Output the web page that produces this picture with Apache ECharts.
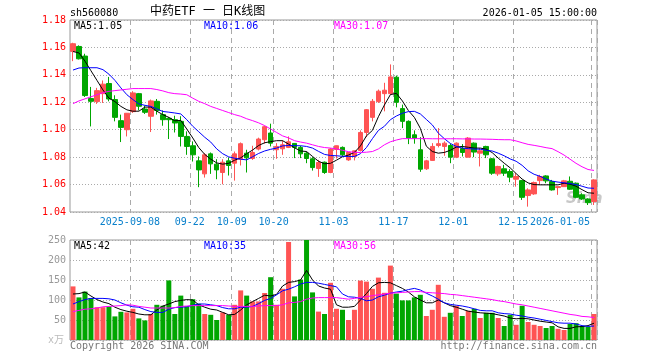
<!DOCTYPE html>
<html>
<head>
<meta charset="utf-8">
<script src="https://cdn.jsdelivr.net/npm/echarts@6.0.0/dist/echarts.min.js"></script>
<style>
html,body{margin:0;padding:0;background:#fff;}
#c{width:660px;height:360px;}
</style>
</head>
<body>
<div id="c"></div>
<script>
const dates = [
'2025-08-25','2025-08-26','2025-08-27','2025-08-28','2025-08-29',
'2025-09-01','2025-09-02','2025-09-03','2025-09-04','2025-09-05',
'2025-09-08','2025-09-09','2025-09-10','2025-09-11','2025-09-12',
'2025-09-15','2025-09-16','2025-09-17','2025-09-18','2025-09-19',
'2025-09-22','2025-09-23','2025-09-24','2025-09-25','2025-09-26',
'2025-09-29','2025-09-30',
'2025-10-09','2025-10-10',
'2025-10-13','2025-10-14','2025-10-15','2025-10-16','2025-10-17',
'2025-10-20','2025-10-21','2025-10-22','2025-10-23','2025-10-24',
'2025-10-27','2025-10-28','2025-10-29','2025-10-30','2025-10-31',
'2025-11-03','2025-11-04','2025-11-05','2025-11-06','2025-11-07',
'2025-11-10','2025-11-11','2025-11-12','2025-11-13','2025-11-14',
'2025-11-17','2025-11-18','2025-11-19','2025-11-20','2025-11-21',
'2025-11-24','2025-11-25','2025-11-26','2025-11-27','2025-11-28',
'2025-12-01','2025-12-02','2025-12-03','2025-12-04','2025-12-05',
'2025-12-08','2025-12-09','2025-12-10','2025-12-11','2025-12-12',
'2025-12-15','2025-12-16','2025-12-17','2025-12-18','2025-12-19',
'2025-12-22','2025-12-23','2025-12-24','2025-12-25','2025-12-26',
'2025-12-29','2025-12-30','2025-12-31',
'2026-01-05'];

const tickLabels = ['2025-09-08','09-22','10-09','10-20','11-03','11-17','12-01','12-15','2026-01-05'];

const opens = [
1.1571,1.1607,1.1537,1.1227,1.1205,1.1263,1.1337,1.1220,1.1066,1.1000,
1.1132,1.1263,1.1151,1.1098,1.1207,1.1110,1.1083,1.1073,1.1061,1.0951,
1.0883,1.0773,1.0678,1.0824,1.0749,1.0688,1.0773,1.0756,1.0785,1.0829,
1.0790,1.0859,1.0927,1.0976,1.0854,1.0861,1.0871,1.0900,1.0871,1.0829,
1.0788,1.0717,1.0763,1.0688,1.0856,1.0871,1.0780,1.0805,1.0849,1.0980,
1.1090,1.1205,1.1263,1.1263,1.1383,1.1154,1.1061,1.0963,1.0854,1.0715,
1.0776,1.0885,1.0878,1.0885,1.0800,1.0863,1.0800,1.0902,1.0829,1.0878,
1.0788,1.0678,1.0715,1.0695,1.0639,1.0629,1.0520,1.0532,1.0629,1.0663,
1.0622,1.0578,1.0585,1.0624,1.0610,1.0525,1.0495,1.0476];

const closes = [
1.1627,1.1517,1.1249,1.1207,1.1285,1.1332,1.1224,1.1090,1.1017,1.1120,
1.1268,1.1171,1.1127,1.1210,1.1141,1.1073,1.1073,1.1049,1.0951,1.0878,
1.0817,1.0707,1.0817,1.0751,1.0707,1.0763,1.0739,1.0824,1.0898,1.0795,
1.0834,1.0932,1.1022,1.0902,1.0878,1.0890,1.0912,1.0871,1.0824,1.0790,
1.0724,1.0761,1.0688,1.0859,1.0883,1.0817,1.0834,1.0846,1.0980,1.1146,
1.1207,1.1281,1.1288,1.1385,1.1200,1.1061,1.0939,1.0939,1.0712,1.0773,
1.0878,1.0898,1.0902,1.0800,1.0902,1.0834,1.0939,1.0837,1.0846,1.0817,
1.0683,1.0732,1.0683,1.0654,1.0659,1.0507,1.0561,1.0615,1.0659,1.0627,
1.0561,1.0585,1.0627,1.0566,1.0507,1.0495,1.0468,1.0634];

const highs = [
1.1634,1.1615,1.1554,1.1312,1.1305,1.1359,1.1385,1.1251,1.1110,1.1122,
1.1281,1.1268,1.1176,1.1220,1.1224,1.1141,1.1093,1.1102,1.1098,1.0988,
1.0915,1.0805,1.0829,1.0834,1.0785,1.0785,1.0798,1.0841,1.0907,1.0854,
1.0883,1.0942,1.1029,1.1044,1.0902,1.0922,1.0951,1.0902,1.0883,1.0841,
1.0800,1.0780,1.0768,1.0866,1.0885,1.0878,1.0836,1.0848,1.0995,1.1151,
1.1224,1.1293,1.1342,1.1476,1.1395,1.1183,1.1068,1.0995,1.0946,1.0780,
1.0902,1.1012,1.0915,1.0898,1.0907,1.0895,1.0946,1.0907,1.0866,1.0883,
1.0793,1.0737,1.0744,1.0712,1.0683,1.0634,1.0573,1.0622,1.0671,1.0668,
1.0634,1.0588,1.0634,1.0659,1.0615,1.0537,1.0500,1.0639];

const lows = [
1.1500,1.1512,1.1239,1.1024,1.1188,1.1195,1.1207,1.1061,1.0910,1.0951,
1.1122,1.1141,1.1115,1.0983,1.1110,1.1029,1.0932,1.0980,1.0878,1.0817,
1.0768,1.0581,1.0651,1.0678,1.0639,1.0602,1.0666,1.0629,1.0739,1.0688,
1.0780,1.0849,1.0898,1.0878,1.0788,1.0817,1.0866,1.0793,1.0793,1.0756,
1.0702,1.0656,1.0678,1.0683,1.0790,1.0805,1.0773,1.0776,1.0841,1.0946,
1.1061,1.1195,1.1134,1.1256,1.1163,1.1012,1.0895,1.0898,1.0693,1.0707,
1.0773,1.0871,1.0810,1.0756,1.0793,1.0805,1.0798,1.0800,1.0732,1.0793,
1.0671,1.0663,1.0663,1.0617,1.0585,1.0488,1.0439,1.0525,1.0598,1.0610,
1.0556,1.0525,1.0583,1.0561,1.0500,1.0488,1.0451,1.0451];

const ma5 = [
1.157,1.156,1.150,1.143,1.136,1.129,1.123,1.1205,1.117,1.1145,
1.1135,1.1135,1.1165,1.1165,1.1135,1.111,1.109,1.1065,1.1068,1.1005,
1.094,1.087,1.082,1.0785,1.0758,1.0749,1.0755,1.0778,1.0795,1.0825,
1.0852,1.0885,1.0905,1.0913,1.092,1.092,1.0895,1.0868,1.0845,1.0841,
1.0805,1.077,1.0752,1.0755,1.0778,1.0803,1.0815,1.0835,1.0882,1.0955,
1.0995,1.1095,1.118,1.1256,1.1265,1.121,1.114,1.109,1.101,1.088,
1.0841,1.0829,1.0834,1.085,1.0873,1.0878,1.0872,1.0866,1.0866,1.0858,
1.0833,1.0793,1.0756,1.0722,1.068,1.064,1.0612,1.06,1.0598,1.0598,
1.0598,1.0598,1.061,1.0603,1.0588,1.0563,1.054,1.0537];

const ma10 = [
1.1435,1.145,1.1452,1.1452,1.1452,1.1438,1.1405,1.136,1.1305,1.1255,
1.122,1.1188,1.1178,1.117,1.1152,1.1133,1.1128,1.1122,1.1115,1.1073,
1.1025,1.0985,1.0945,1.091,1.086,1.0825,1.0802,1.0792,1.0785,1.078,
1.0803,1.0827,1.0845,1.0857,1.0866,1.0882,1.0885,1.0884,1.0883,1.0878,
1.0866,1.0842,1.082,1.0812,1.081,1.0806,1.0805,1.0805,1.0825,1.087,
1.0935,1.0995,1.1025,1.1073,1.11,1.112,1.1132,1.1134,1.1115,1.1075,
1.1035,1.0975,1.0935,1.09,1.0878,1.0866,1.0862,1.0859,1.0858,1.085,
1.0845,1.0829,1.081,1.0787,1.077,1.074,1.07,1.0675,1.066,1.064,
1.0625,1.0618,1.0613,1.0608,1.06,1.0588,1.0575,1.0573];

const ma30 = [
1.119,1.121,1.1225,1.124,1.1255,1.127,1.128,1.1285,1.129,1.1295,
1.130,1.130,1.130,1.130,1.1293,1.1283,1.127,1.1263,1.126,1.1255,
1.123,1.1207,1.119,1.117,1.1155,1.114,1.1125,1.111,1.1098,1.108,
1.1066,1.105,1.103,1.1005,1.098,1.0955,1.094,1.092,1.091,1.0902,
1.089,1.0878,1.087,1.0866,1.086,1.085,1.084,1.0835,1.0834,1.0836,
1.0841,1.086,1.089,1.0912,1.0925,1.0935,1.0935,1.0935,1.0935,1.0935,
1.0934,1.0934,1.0934,1.0934,1.0934,1.0933,1.0933,1.0932,1.0932,1.0931,
1.093,1.0928,1.0927,1.0927,1.0918,1.0905,1.0893,1.0886,1.0878,1.0869,
1.0862,1.084,1.0815,1.0785,1.0755,1.073,1.071,1.0703];

const volumes = [
134,106.5,121,105,82,82,84,59,70.5,69,
78,54,49,65,88,85.6,149,65,111,84,
102,90.6,65,63,50,69,63,88,124,111,
96.5,96.5,117.5,157,88,128,245,109,151,250,
119,71,65,143,78,75.5,50,75.5,148.5,146,
128,156,118,186,116,99,99,106.5,113,60,
75.5,138,58,68,85.6,60,73,78,55,68,
68,55,35,63,38,85.6,45,38,35,30,
35,28,25,40,42,35,33.5,65];

const vma5 = [
115,116,120,110,101,95,91,82,76,72,
69,65,63,63,75,85,90,96,99,101,
100,88,82,77,75,69,63,64,75,88,
96,104,112,110,114,135,144,146,150,174,
150,135,130,127,88,82,82,84,100,116,
134,143,144,143,136,129,120,108,100,93,
93,100,93,86,82,77,72,70,68,67,
66,63,60,55,53,54,53,50,47,45,
43,33,29,29,33,33.5,36,42];

const vma10 = [
90,96,101,104,104,104,103,100,93,87,
83,82,76,71,69,69,77,81,82,83,
87,90,90,88,86,81,78,78,82,82,
84,91,99,104,113,123,127,133,140,144,
144,142,139,136,133,115,108,107,104,98,
100,108,112,117,120,122,126,129,125,117,
110,102,93,89,87,85,82,78,74,73,
73,68,66,65,62,60,57,55,52,49,
46,43,42,42,40,36,34,35];

const vma30 = [
71,74,77,78,80,83,84,85,86,88,
87,84,82,80,80,80,80,81,84,85,
86,86,86,86,86,86,85,84,84,84,
84,85,86,86,86,88,93,94,96,102,
105,106,106,106,106,104,102,104,107,108,
111,113,115,117,118,119,120,121,121,119,
118,117,116,114,113,111,109,107,105,103,
101,98,96,93,90,88,85,82,79,76,
73,70,67,64,62,59,58,56];

const RED = '#ff5454', GREEN = '#00a600';
const FONT = '"DejaVu Sans Mono", monospace';
const tickIdx = tickLabels.map(t => dates.findIndex(d => d.endsWith(t)));
const lastIdx = tickIdx[tickIdx.length - 1];
const isTick = (i) => tickIdx.indexOf(i) >= 0;
const up = dates.map((d, i) => closes[i] >= opens[i]);
const kData = dates.map((d, i) => [opens[i], closes[i], lows[i], highs[i]]);

const chart = echarts.init(document.getElementById('c'), null, {renderer: 'canvas'});
const splitX = {show: true, interval: (i) => isTick(i), lineStyle: {color: '#aaa', type: [5, 4], width: 1}};
const splitY = {show: true, lineStyle: {color: '#aaa', type: [1, 2], width: 1}};

function txt(text, x, y, color, align, font) {
  return {type: 'text', z: 10, style: {text: text, x: x, y: y, fill: color, align: align || 'left', verticalAlign: 'middle', font: font || ('10px ' + FONT)}};
}
const last = (a) => a[a.length - 1];

const option = {
  animation: false,
  backgroundColor: '#fff',
  grid: [
    {left: 70, top: 20, width: 527, height: 192, show: true, borderColor: '#999', borderWidth: 1},
    {left: 70, top: 240, width: 527, height: 100, show: true, borderColor: '#999', borderWidth: 1}
  ],
  xAxis: [
    {type: 'category', gridIndex: 0, data: dates, boundaryGap: true,
     axisLine: {show: false}, axisTick: {show: false},
     axisLabel: {
       interval: (i) => isTick(i), margin: 5,
       formatter: function (v, i) {
         const k = tickIdx.indexOf(i);
         const t = k >= 0 ? tickLabels[k] : '';
         return i === lastIdx ? '{e|' + t + '}' : '{c|' + t + '}';
       },
       rich: {
         c: {fontSize: 10, fontFamily: FONT, color: '#0a80cc', padding: [0, 6, 0, 0]},
         e: {fontSize: 10, fontFamily: FONT, color: '#0a80cc', padding: [0, 68, 0, 0]}
       }
     },
     splitLine: splitX},
    {type: 'category', gridIndex: 1, data: dates, boundaryGap: true,
     axisLine: {show: false}, axisTick: {show: false}, axisLabel: {show: false},
     splitLine: splitX}
  ],
  yAxis: [
    {type: 'value', gridIndex: 0, min: 1.04, max: 1.18, interval: 0.02, scale: true,
     axisLine: {show: false}, axisTick: {show: false},
     axisLabel: {color: '#f00', fontSize: 10, fontFamily: FONT, margin: 4, formatter: (v) => v.toFixed(2)},
     splitLine: splitY},
    {type: 'value', gridIndex: 1, min: 0, max: 250, interval: 50,
     axisLine: {show: false}, axisTick: {show: false},
     axisLabel: {color: '#999', fontSize: 10, fontFamily: FONT, margin: 4, formatter: (v) => v === 0 ? '' : String(v)},
     splitLine: splitY}
  ],
  series: [
    {type: 'candlestick', xAxisIndex: 0, yAxisIndex: 0, data: kData, barWidth: 5,
     itemStyle: {color: RED, color0: GREEN, borderColor: RED, borderColor0: GREEN, borderColorDoji: RED, borderWidth: 1}},
    {type: 'line', xAxisIndex: 0, yAxisIndex: 0, data: ma5, symbol: 'none', lineStyle: {color: '#000', width: 1}},
    {type: 'line', xAxisIndex: 0, yAxisIndex: 0, data: ma10, symbol: 'none', lineStyle: {color: '#0000ff', width: 1}},
    {type: 'line', xAxisIndex: 0, yAxisIndex: 0, data: ma30, symbol: 'none', lineStyle: {color: '#ff00ff', width: 1}},
    {type: 'bar', xAxisIndex: 1, yAxisIndex: 1, data: volumes, barWidth: 5,
     itemStyle: {color: (p) => up[p.dataIndex] ? RED : GREEN}},
    {type: 'line', xAxisIndex: 1, yAxisIndex: 1, data: vma5, symbol: 'none', lineStyle: {color: '#000', width: 1}},
    {type: 'line', xAxisIndex: 1, yAxisIndex: 1, data: vma10, symbol: 'none', lineStyle: {color: '#0000ff', width: 1}},
    {type: 'line', xAxisIndex: 1, yAxisIndex: 1, data: vma30, symbol: 'none', lineStyle: {color: '#ff00ff', width: 1}}
  ],
  graphic: [
    txt('sh560080', 70, 13, '#000'),
    txt('中药ETF 一 日K线图', 150, 12, '#000', 'left', '12px "DejaVu Sans Mono", "Noto Sans CJK SC"'),
    txt('2026-01-05 15:00:00', 597, 13, '#000', 'right'),
    txt('MA5:' + last(ma5).toFixed(2), 74, 26, '#000'),
    txt('MA10:' + last(ma10).toFixed(2), 204, 26, '#0000ff'),
    txt('MA30:' + last(ma30).toFixed(2), 334, 26, '#ff00ff'),
    txt('MA5:' + Math.round(last(vma5)), 74, 246, '#000'),
    txt('MA10:' + Math.round(last(vma10)), 204, 246, '#0000ff'),
    txt('MA30:' + Math.round(last(vma30)), 334, 246, '#ff00ff'),
    txt('x万', 64, 340, '#bbb', 'right', '10px "DejaVu Sans Mono", "Noto Sans CJK SC"'),
    txt('Copyright 2026 SINA.COM', 70, 346, '#777'),
    txt('http://finance.sina.com.cn', 597, 346, '#777', 'right'),
    {type: 'text', z: 0, style: {text: 'Sina', x: 566, y: 199, fill: '#c8c8c8', align: 'left', verticalAlign: 'middle', font: 'italic bold 15px "DejaVu Sans"'}}
  ]
};
chart.setOption(option);
</script>
</body>
</html>
